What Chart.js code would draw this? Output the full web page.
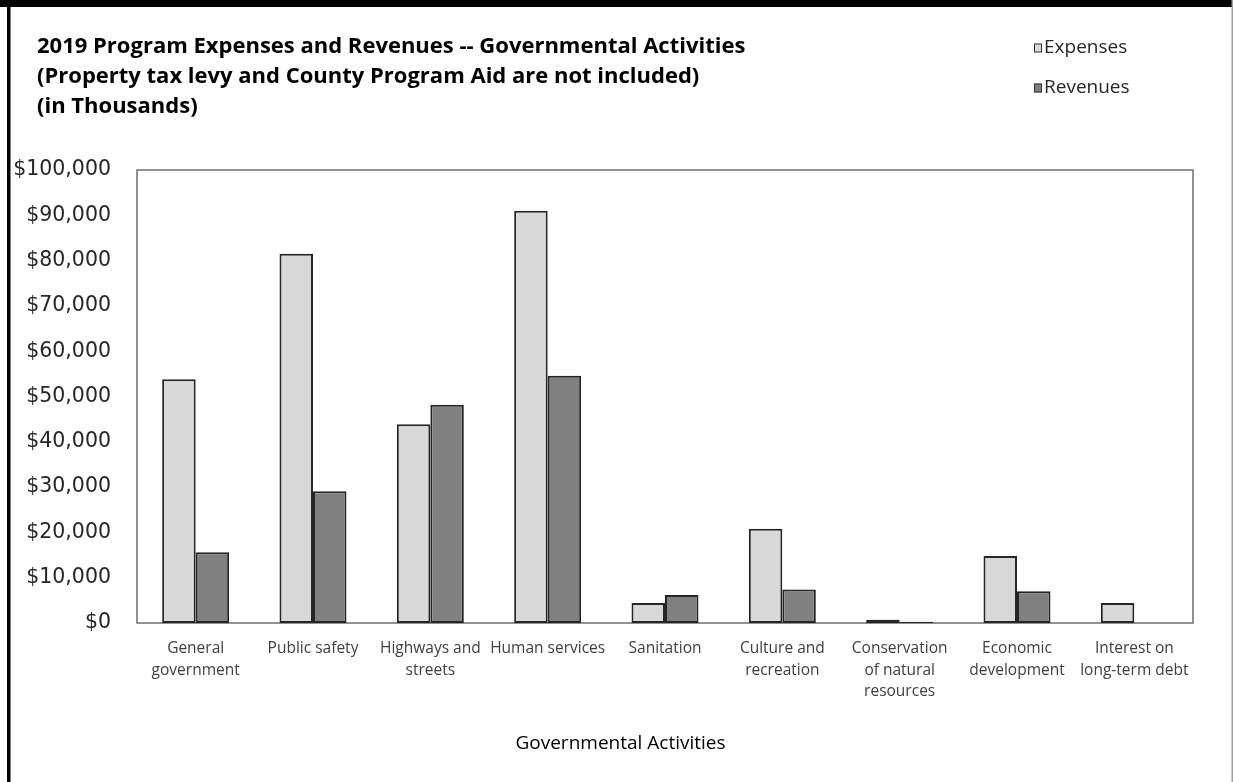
<!DOCTYPE html>
<html>
<head>
<meta charset="utf-8">
<title>2019 Program Expenses and Revenues</title>
<script src="https://cdn.jsdelivr.net/npm/chart.js@4.4.1/dist/chart.umd.min.js"></script>
<style>
  html, body { margin: 0; padding: 0; background: #fff; }
  canvas { display: block; }
</style>
</head>
<body>
<canvas id="programChart" width="1233" height="782"></canvas>
<script>
// Governmental activities, amounts in thousands of dollars
const activities = [
  ['General', 'government'],
  ['Public safety'],
  ['Highways and', 'streets'],
  ['Human services'],
  ['Sanitation'],
  ['Culture and', 'recreation'],
  ['Conservation', 'of natural', 'resources'],
  ['Economic', 'development'],
  ['Interest on', 'long-term debt']
];
const expenses = [53800, 81500, 43900, 91000, 4400, 20800, 700, 14800, 4400];
const revenues = [15600, 29100, 48200, 54600, 6200, 7400, 300, 7000, 0];

const yMax = 100000;
const yStep = 10000;

const titleLines = [
  '2019 Program Expenses and Revenues -- Governmental Activities',
  '(Property tax levy and County Program Aid are not included)',
  '(in Thousands)'
];
const xAxisTitle = 'Governmental Activities';

const money = v => '$' + v.toLocaleString('en-US');

// frame, plot box, header text and legend
const chartDecor = {
  id: 'chartDecor',
  beforeDraw(chart) {
    const ctx = chart.ctx;
    ctx.save();
    ctx.fillStyle = '#fff';
    ctx.fillRect(0, 0, chart.width, chart.height);
    ctx.fillStyle = '#000';
    ctx.fillRect(0, 0, chart.width, 7);
    ctx.fillRect(7, 0, 3.5, chart.height);
    ctx.fillStyle = '#a0a0a0';
    ctx.fillRect(chart.width - 1.5, 0, 1.5, chart.height);
    ctx.restore();
  },
  beforeDatasetsDraw(chart) {
    const {ctx, chartArea: a} = chart;
    ctx.save();
    ctx.strokeStyle = '#6e6e6e';
    ctx.lineWidth = 1.5;
    ctx.strokeRect(a.left, a.top, a.right - a.left, a.bottom - a.top);
    ctx.restore();
  },
  afterDraw(chart) {
    const ctx = chart.ctx;
    ctx.save();

    // title block
    ctx.fillStyle = '#000';
    ctx.font = 'bold 22px "Open Sans"';
    ctx.textAlign = 'left';
    ctx.textBaseline = 'middle';
    titleLines.forEach((line, i) => ctx.fillText(line, 37, 47 + i * 30));

    // legend, stacked top right
    ctx.font = '19px "Open Sans"';
    chart.data.datasets.forEach((ds, i) => {
      const y = 48 + i * 40;
      ctx.fillStyle = ds.backgroundColor;
      ctx.fillRect(1034, y - 4.5, 8, 9);
      ctx.strokeStyle = '#333';
      ctx.lineWidth = 1;
      ctx.strokeRect(1034.5, y - 4, 7, 8);
      ctx.fillStyle = '#262626';
      ctx.fillText(ds.label, 1044, y);
    });

    // x axis title, centred on the whole chart
    ctx.font = '19px "Open Sans"';
    ctx.textAlign = 'center';
    ctx.fillStyle = '#000';
    ctx.fillText(xAxisTitle, chart.width / 2 + 4, 744);
    ctx.restore();
  }
};

new Chart(document.getElementById('programChart'), {
  type: 'bar',
  data: {
    labels: activities,
    datasets: [
      {
        label: 'Expenses',
        data: expenses,
        backgroundColor: '#d9d9d9',
        borderColor: '#262626',
        borderWidth: 2,
        borderSkipped: false
      },
      {
        label: 'Revenues',
        data: revenues,
        backgroundColor: '#808080',
        borderColor: '#262626',
        borderWidth: 2,
        borderSkipped: false
      }
    ]
  },
  options: {
    responsive: false,
    animation: false,
    devicePixelRatio: 1,
    categoryPercentage: 0.571,
    barPercentage: 1.0,
    layout: {
      padding: { left: 0, right: 40, top: 170, bottom: 0 }
    },
    plugins: {
      legend: { display: false },
      title: { display: false },
      tooltip: { enabled: false }
    },
    scales: {
      x: {
        grid: { display: false, drawTicks: false },
        border: { display: false },
        ticks: {
          autoSkip: false,
          maxRotation: 0,
          padding: 15,
          color: '#404040',
          font: { family: '"Open Sans"', size: 15.5, lineHeight: 1.39 }
        },
        afterFit: scale => { scale.height = 159; }
      },
      y: {
        min: 0,
        max: yMax,
        grid: { display: false, drawTicks: false },
        border: { display: false },
        ticks: {
          stepSize: yStep,
          padding: 26,
          color: '#262626',
          font: { family: '"DejaVu Sans"', size: 20.5 },
          callback: v => money(v)
        },
        afterFit: scale => { scale.width = 137; }
      }
    }
  },
  plugins: [chartDecor]
});
</script>
</body>
</html>
